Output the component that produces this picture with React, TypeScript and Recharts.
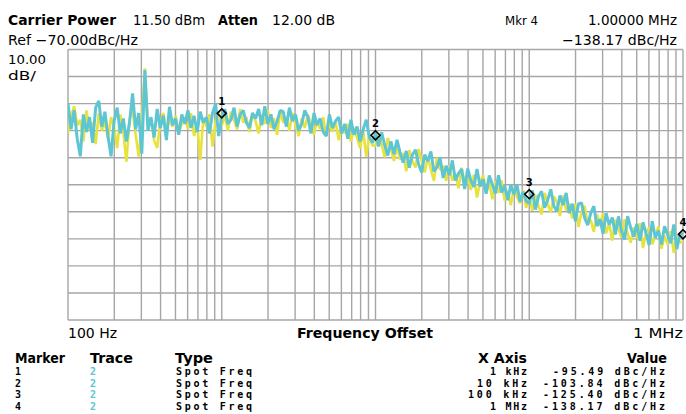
import React from 'react';
import { ComposedChart, Line, XAxis, YAxis, CartesianGrid, ReferenceDot } from 'recharts';

// Sweep decades (start frequency of each decade, Hz)
const decadeStarts = [100, 1000, 10000, 100000];

// Trace 2 (cyan), dBc/Hz
const cyanD1 = [-90.0, -99.5, -92.5, -103.0, -109.5, -94.0, -100.5, -95.0, -104.5, -91.5,
  -89.0, -98.5, -93.0, -102.0, -109.5, -96.5, -91.5, -101.0, -95.5, -104.0,
  -97.0, -86.2, -99.5, -93.5, -108.5, -77.6, -100.0, -95.0, -102.5, -92.0,
  -99.0, -94.5, -103.5, -91.2, -98.0, -95.5, -101.5, -94.0, -97.5, -92.5,
  -99.0, -94.5, -100.5, -93.0, -97.0, -95.0, -101.0, -93.5, -90.0, -102.0];
const cyanD2 = [-95.0, -92.0, -97.5, -96.0, -91.5, -98.5, -94.0, -92.5, -97.0, -99.0,
  -93.5, -95.5, -92.0, -98.0, -91.0, -97.5, -94.0, -99.5, -96.5, -92.5,
  -93.0, -98.5, -91.5, -96.5, -94.0, -100.0, -97.5, -92.5, -95.0, -101.0,
  -93.5, -98.0, -95.5, -100.5, -102.0, -94.0, -99.0, -96.5, -95.0, -101.0,
  -97.5, -103.0, -96.0, -101.5, -98.5, -104.0, -99.5, -96.0, -102.5, -104.5];
const cyanD3 = [-101.0, -105.8, -100.6, -105.4, -109.2, -104.0, -108.7, -103.4, -108.1, -111.8,
  -107.5, -113.7, -108.9, -107.1, -112.3, -115.5, -108.9, -111.3, -107.7, -115.1,
  -113.5, -110.0, -117.5, -113.0, -116.5, -111.0, -118.4, -115.8, -114.2, -121.6,
  -114.0, -118.4, -120.8, -114.2, -120.6, -118.0, -123.3, -116.6, -119.9, -123.2,
  -116.5, -122.9, -120.3, -125.7, -120.1, -123.5, -119.9, -126.3, -122.6, -126.0];
const cyanD4 = [-127.0, -122.1, -129.2, -124.3, -122.4, -128.5, -125.6, -121.7, -127.8, -129.9,
  -124.0, -127.5, -123.0, -130.5, -127.0, -133.5, -127.1, -126.7, -132.3, -134.9,
  -130.5, -127.9, -135.3, -132.7, -138.1, -130.5, -134.8, -132.1, -138.4, -131.7,
  -137.0, -140.3, -131.6, -135.9, -139.2, -134.5, -140.7, -133.9, -138.1, -142.3,
  -133.5, -139.7, -136.9, -142.1, -135.3, -138.5, -141.6, -134.7, -143.8, -137.9];
const cyanEnd = -138.5;

// Trace 1 (yellow), dBc/Hz
const yellowD1 = [-101.0, -94.5, -91.0, -98.0, -96.0, -104.0, -92.5, -99.5, -97.0, -105.0,
  -93.5, -100.0, -96.5, -103.0, -95.0, -99.0, -106.5, -94.0, -100.5, -111.5,
  -96.0, -92.0, -101.5, -109.6, -97.5, -77.0, -99.5, -95.5, -103.5, -106.4,
  -97.0, -93.5, -100.0, -96.0, -98.5, -94.5, -101.0, -97.5, -95.0, -99.5,
  -93.5, -102.0, -97.0, -110.8, -95.5, -98.5, -94.0, -105.9, -96.5, -93.0];
const yellowD2 = [-98.0, -94.5, -100.0, -93.0, -96.0, -99.5, -92.0, -97.0, -95.0, -100.5,
  -93.5, -96.5, -101.0, -94.0, -97.5, -92.5, -99.0, -95.5, -101.5, -93.0,
  -97.0, -95.0, -100.0, -93.5, -98.0, -102.0, -95.5, -99.0, -94.0, -97.5,
  -101.5, -96.0, -99.5, -95.0, -102.0, -97.0, -100.5, -96.5, -103.5, -98.0,
  -101.0, -97.5, -104.0, -99.0, -102.5, -106.5, -100.0, -109.6, -101.5, -105.5];
const yellowD3 = [-105.5, -101.3, -105.1, -109.9, -102.7, -106.5, -111.2, -105.9, -110.6, -108.3,
  -115.0, -107.2, -111.4, -113.6, -106.8, -111.0, -115.4, -109.8, -114.2, -118.6,
  -110.0, -114.5, -113.0, -118.5, -113.0, -118.5, -115.9, -121.3, -113.7, -119.1,
  -116.5, -121.9, -116.3, -124.7, -119.1, -116.5, -122.8, -119.1, -125.4, -118.7,
  -123.0, -118.4, -125.8, -122.2, -127.6, -121.0, -124.4, -126.8, -122.1, -128.5];
const yellowD4 = [-124.5, -129.6, -123.7, -127.8, -130.9, -123.0, -127.1, -130.2, -124.3, -126.4,
  -131.5, -124.0, -129.5, -127.0, -132.5, -127.0, -135.6, -130.2, -127.8, -134.4,
  -133.0, -137.4, -130.8, -135.2, -130.6, -138.0, -134.3, -140.6, -132.9, -136.2,
  -139.5, -132.8, -138.1, -141.4, -135.7, -140.0, -134.2, -143.4, -137.6, -135.8,
  -142.0, -139.2, -135.4, -143.6, -138.8, -142.0, -137.1, -145.2, -138.3, -141.4];
const yellowEnd = -141.0;

// Markers
const markerFreqs = [1000, 10000, 100000, 1000000];
const markerLevels = [-93.6, -101.7, -123.5, -138.3];
const markerNums = ['1', '2', '3', '4'];
const markerTraces = ['2', '2', '2', '2'];
const markerTypes = ['Spot Freq', 'Spot Freq', 'Spot Freq', 'Spot Freq'];
const markerXText = ['1 kHz', '10 kHz', '100 kHz', '1 MHz'];
const markerValueText = ['-95.49 dBc/Hz', '-103.84 dBc/Hz', '-125.40 dBc/Hz', '-138.17 dBc/Hz'];

// Grid
const gridMultipliers = [1, 2, 3, 4, 5, 6, 7, 8, 9];
const gridFreqs: number[] = [];
decadeStarts.forEach((d) => gridMultipliers.forEach((m) => gridFreqs.push(d * m)));
gridFreqs.push(1000000);
const gridLevels = [-70, -80, -90, -100, -110, -120, -130, -140, -150, -160, -170];

const cyanDecades = [cyanD1, cyanD2, cyanD3, cyanD4];
const yellowDecades = [yellowD1, yellowD2, yellowD3, yellowD4];
const data: { freq: number; cyan: number; yellow: number }[] = [];
decadeStarts.forEach((f0, d) => {
  const c = cyanDecades[d];
  const n = c.length;
  c.forEach((v, i) => data.push({ freq: f0 * Math.pow(10, i / n), cyan: v, yellow: yellowDecades[d][i] }));
});
data.push({ freq: 1000000, cyan: cyanEnd, yellow: yellowEnd });

const CYAN = '#5ec6d3';
const YELLOW = '#e8e23e';
const GRID = '#a6a6a6';
const SANS = '"DejaVu Sans", "Liberation Sans", sans-serif';
const MONO = '"DejaVu Sans Mono", "Liberation Mono", monospace';

const Diamond = (p: any) => {
  const { cx, cy, label } = p;
  if (cx == null || cy == null) return null;
  const s = 4.5;
  return (
    <g>
      <polygon
        points={`${cx},${cy - s} ${cx + s},${cy} ${cx},${cy + s} ${cx - s},${cy}`}
        fill="none"
        stroke="#000"
        strokeWidth={1.6}
      />
      <text x={cx} y={cy - 8} textAnchor="middle" fontFamily={SANS} fontWeight="bold" fontSize={10} fill="#000">
        {label}
      </text>
    </g>
  );
};

type TProps = {
  x: number; y: number; w: number; size: number; bold?: boolean; anchor?: 'start' | 'end' | 'middle';
  fill?: string; font?: string; adjust?: 'spacing' | 'spacingAndGlyphs'; children: React.ReactNode;
};
const T = ({ x, y, w, size, bold, anchor = 'start', fill = '#000', font = SANS, adjust = 'spacingAndGlyphs', children }: TProps) => (
  <text
    x={x}
    y={y}
    fontFamily={font}
    fontSize={size}
    fontWeight={bold ? 'bold' : 'normal'}
    textAnchor={anchor}
    fill={fill}
    textLength={w}
    lengthAdjust={adjust}
    style={{ whiteSpace: 'pre' }}
  >
    {children}
  </text>
);

const rowBaselines = [375, 386.7, 398.4, 410.2];
const xTextWidths = [37, 50, 59, 37];
const valueWidths = [112, 122, 122, 122];

export default function App() {
  return (
    <div style={{ position: 'absolute', left: 0, top: 0, width: 686, height: 414, background: '#fff' }}>
      <ComposedChart width={686} height={414} data={data} margin={{ top: 49.5, right: 3, bottom: 94, left: 68 }}>
        <XAxis dataKey="freq" type="number" scale="log" domain={[100, 1000000]} allowDataOverflow hide interval={0} />
        <YAxis type="number" domain={[-170, -70]} allowDataOverflow hide interval={0} />
        <CartesianGrid
          verticalValues={gridFreqs}
          horizontalValues={gridLevels}
          stroke={GRID}
          strokeWidth={1.4}
          fill="none"
        />
        <Line dataKey="yellow" type="linear" stroke={YELLOW} strokeWidth={2.6} strokeLinejoin="bevel" dot={false} activeDot={false} isAnimationActive={false} />
        <Line dataKey="cyan" type="linear" stroke={CYAN} strokeWidth={3} strokeLinejoin="bevel" dot={false} activeDot={false} isAnimationActive={false} />
        {markerFreqs.map((f, i) => (
          <ReferenceDot
            key={i}
            x={f}
            y={markerLevels[i]}
            r={5}
            ifOverflow="visible"
            shape={(p: any) => <Diamond cx={p.cx} cy={p.cy} label={markerNums[i]} />}
          />
        ))}
      </ComposedChart>
      <svg width={686} height={414} style={{ position: 'absolute', left: 0, top: 0, pointerEvents: 'none' }}>
        <T x={8} y={25} w={108} size={14} bold>Carrier Power</T>
        <T x={133} y={25} w={72} size={14}>11.50 dBm</T>
        <T x={218} y={25} w={40} size={14} bold>Atten</T>
        <T x={272} y={25} w={63} size={14}>12.00 dB</T>
        <T x={505} y={25} w={33} size={13}>Mkr 4</T>
        <T x={677} y={25} w={89} size={13.5} anchor="end">1.00000 MHz</T>
        <T x={8} y={45} w={130} size={14}>Ref −70.00dBc/Hz</T>
        <T x={677} y={45} w={115} size={14} anchor="end">−138.17 dBc/Hz</T>
        <T x={8} y={64} w={38} size={13}>10.00</T>
        <T x={8} y={80} w={28} size={13}>dB/</T>
        <T x={68} y={338} w={49} size={14}>100 Hz</T>
        <T x={297} y={338} w={136} size={14} bold>Frequency Offset</T>
        <T x={683} y={338} w={50} size={14} anchor="end">1 MHz</T>
        <T x={15} y={363} w={50} size={14} bold>Marker</T>
        <T x={90} y={363} w={43} size={14} bold>Trace</T>
        <T x={175} y={363} w={38} size={14} bold>Type</T>
        <T x={527} y={363} w={49} size={14} bold anchor="end">X Axis</T>
        <T x={667} y={363} w={40} size={14} bold anchor="end">Value</T>
        {markerNums.map((m, i) => (
          <g key={i}>
            <T x={15} y={rowBaselines[i]} w={6} size={10} bold font={MONO}>{m}</T>
            <T x={90} y={rowBaselines[i]} w={6} size={10} bold font={MONO} fill={CYAN}>{markerTraces[i]}</T>
            <T x={176} y={rowBaselines[i]} w={76} size={10} bold font={MONO} adjust="spacing">{markerTypes[i]}</T>
            <T x={527} y={rowBaselines[i]} w={xTextWidths[i]} size={10} bold font={MONO} adjust="spacing" anchor="end">{markerXText[i]}</T>
            <T x={665} y={rowBaselines[i]} w={valueWidths[i]} size={10} bold font={MONO} adjust="spacing" anchor="end">{markerValueText[i]}</T>
          </g>
        ))}
      </svg>
    </div>
  );
}
